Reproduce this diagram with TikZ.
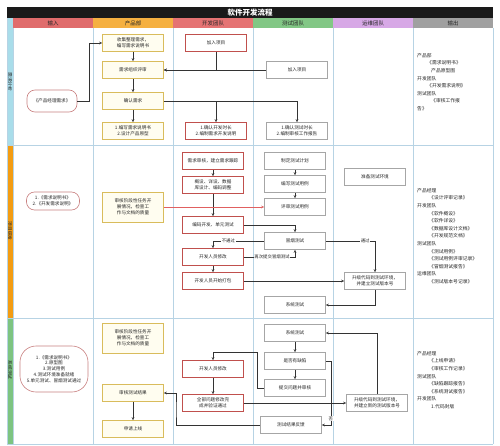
\documentclass[tikz,border=0pt]{standalone}
\usepackage{fontspec}
\setmainfont{Noto Sans CJK SC}
\XeTeXlinebreaklocale "zh"
\XeTeXlinebreakskip=0pt
\usetikzlibrary{arrows.meta}
\definecolor{titlec}{HTML}{1A1A1A}
\definecolor{hInput}{HTML}{E06C6C}
\definecolor{hProd}{HTML}{F5B041}
\definecolor{hDev}{HTML}{E57373}
\definecolor{hTest}{HTML}{82C785}
\definecolor{hOps}{HTML}{D7A8E6}
\definecolor{hOut}{HTML}{A0A0A0}
\definecolor{ph1}{HTML}{A9DDEA}
\definecolor{ph2}{HTML}{F39C12}
\definecolor{ph3}{HTML}{7DC481}
\definecolor{gridc}{HTML}{B7D3E4}
\definecolor{prodline}{HTML}{D9BC5C}
\definecolor{prodfill}{HTML}{FFFDF0}
\definecolor{devline}{HTML}{C0504D}
\definecolor{inpline}{HTML}{C98080}
\definecolor{testline}{HTML}{A6A6A6}
\definecolor{linec}{HTML}{333333}
\definecolor{redline}{HTML}{E06060}
\begin{document}
\begin{tikzpicture}[x=1pt,y=-1pt,
  every node/.style={font=\fontsize{4.6}{5.8}\selectfont, inner sep=1pt, text=black!85},
  box/.style={draw, minimum width=61pt, minimum height=17pt, text width=54pt, align=center, line width=0.6pt},
  prodbox/.style={box, draw=prodline, fill=prodfill},
  devbox/.style={box, draw=devline, fill=white},
  testbox/.style={box, draw=testline, fill=white},
  inpbox/.style={draw=inpline, rounded corners=8pt, align=center, line width=0.6pt, fill=white},
  arr/.style={draw=linec, line width=0.6pt, -{Stealth[length=3pt,width=2.6pt]}},
  redarr/.style={draw=redline, line width=0.6pt, -{Stealth[length=3pt,width=2.6pt]}},
  gridln/.style={draw=gridc, line width=0.7pt},
  hdr/.style={font=\fontsize{5.5}{6.5}\selectfont},
  lbl/.style={fill=white, inner sep=0.6pt, font=\fontsize{4.4}{5}\selectfont},
  outtxt/.style={anchor=north west, align=left, font=\fontsize{4.8}{7.6}\selectfont},
  phlbl/.style={rotate=-90, font=\fontsize{4.8}{5.6}\selectfont},
]
\useasboundingbox (0,0) rectangle (500,446);
\fill[white] (0,0) rectangle (500,446);
% title
\fill[titlec] (7,7) rectangle (493,18);
\node[text=white, font=\fontsize{7.5}{8}\selectfont\bfseries] (title) at (250,12.5) {软件开发流程};
% headers
\fill[hInput] (13,18) rectangle (93,28);
\fill[hProd] (93,18) rectangle (173,28);
\fill[hDev] (173,18) rectangle (253,28);
\fill[hTest] (253,18) rectangle (333,28);
\fill[hOps] (333,18) rectangle (413,28);
\fill[hOut] (413,18) rectangle (493,28);
\node[hdr] (h1) at (53,23) {输入};
\node[hdr] (h2) at (133,23) {产品部};
\node[hdr] (h3) at (213,23) {开发团队};
\node[hdr] (h4) at (293,23) {测试团队};
\node[hdr] (h5) at (373,23) {运维团队};
\node[hdr] (h6) at (453,23) {输出};
% phase strips
\fill[ph1] (7,18) rectangle (13,145);
\fill[ph2] (7,145) rectangle (13,318);
\fill[ph3] (7,318) rectangle (13,444);
\node[phlbl] (ph1l) at (10,82) {需求分析};
\node[phlbl] (ph2l) at (10,231) {项目研发};
\node[phlbl] (ph3l) at (10,370) {系统测试};
% grid
\foreach \x in {13,93,173,253,333,413,493} \draw[gridln] (\x,28) -- (\x,444);
\foreach \y in {145,318,444} \draw[gridln] (7,\y) -- (493,\y);
\draw[gridln] (7,18) -- (7,444);

% ---------- phase 1 ----------
\node[inpbox, minimum width=50pt, minimum height=22pt] (pi1) at (52,101) {《产品经理需求》};
\node[prodbox] (p1) at (133,43) {收集整理需求，编写需求说明书};
\node[prodbox] (p2) at (133,70) {需求组织评审};
\node[prodbox] (p3) at (133,101) {确认需求};
\node[prodbox] (p4) at (133,131) {1.编写需求说明书\\2.设计产品原型};
\node[devbox] (d1) at (216,43) {加入项目};
\node[devbox] (d2) at (216,131) {1.确认开发时长\\2.编制需求开发说明};
\node[testbox] (t1) at (297,70) {加入项目};
\node[testbox] (t2) at (297,131) {1.确认测试时长\\2.编制审核工作报告};
\node[outtxt] (out1) at (416,52) {产品部\\
\hspace*{10pt}《需求说明书》\\
\hspace*{14pt}产品原型图\\
开发团队\\
\hspace*{10pt}《开发需求说明》\\
测试团队\\
\hspace*{14pt}《审核工作报\\
告》};

\draw[arr] (pi1.east) -- ++(12,0) |- (p1.west);
\draw[arr] (p1) -- (p2);
\draw[arr] (d1.south) |- (p2.east);
\draw[arr] (t1.west) -- (p2.east);
\draw[arr] (p2) -- (p3);
\draw[arr] (p3.east) -| (t2.north);
\draw[arr] (p3.east) -| (d2.north);
\draw[arr] (p3) -- (p4);

% ---------- phase 2 ----------
\node[inpbox, minimum width=53pt, minimum height=18pt] (pi2) at (53,201) {1.《需求说明书》\\2.《开发需求说明》};
\node[prodbox, minimum height=30pt] (q1) at (133,207) {审核阶段性任务开展情况，检查工作与文档的质量};
\node[devbox] (e1) at (213,161) {需求审核，建立需求跟踪};
\node[devbox] (e2) at (213,185) {概设、详设、数据库设计、编码调整};
\node[devbox] (e3) at (213,225) {编码开发、单元测试};
\node[devbox] (e4) at (213,257) {开发人员修改};
\node[devbox] (e5) at (213,281) {开发人员开始打包};
\node[testbox] (s1) at (295,161) {制定测试计划};
\node[testbox] (s2) at (295,184) {编写测试用例};
\node[testbox] (s3) at (295,207) {评审测试用例};
\node[testbox] (s4) at (295,241) {冒烟测试};
\node[testbox] (s5) at (295,305) {系统测试};
\node[testbox] (o1) at (375,177) {准备测试环境};
\node[testbox] (o2) at (375,281) {升级代码到测试环境，并建立测试版本号};
\node[outtxt] (out2) at (416,187) {产品经理\\
\hspace*{12pt}《设计评审记录》\\
开发团队\\
\hspace*{12pt}《软件概设》\\
\hspace*{12pt}《软件详设》\\
\hspace*{12pt}《数据库设计文档》\\
\hspace*{12pt}《开发规范文档》\\
测试团队\\
\hspace*{12pt}《测试用例》\\
\hspace*{12pt}《测试用例评审记录》\\
\hspace*{12pt}《冒烟测试报告》\\
运维团队\\
\hspace*{12pt}《测试版本号记录》};

\draw[arr] (e1) -- (e2);
\draw[arr] (e2) -- (e3);
\draw[redarr] (q1.east) -- (s3.west);
\draw[arr] (s1) -- (s2);
\draw[arr] (s2) -- (s3);
\draw[arr] (e3.east) -| (s4.north);
\draw[arr] (s4.west) -| node[lbl, pos=0.35] {不通过} (e4.north);
\draw[arr] (e4.east) -| (s4.south);
\node[lbl] (again) at (272,257) {再次提交冒烟测试};
\draw[arr] (e4) -- (e5);
\draw[arr] (e5.east) -- (o2.west);
\draw[arr] (s4.east) -| node[lbl, pos=0.4] {通过} (o2.north);
\draw[arr] (o2.south) |- (s5.east);

% ---------- phase 3 ----------
\node[inpbox, rounded corners=16pt, minimum width=68pt, minimum height=46pt] (pi3) at (54,369) {1.《需求说明书》\\2.原型图\\3.测试用例\\4.测试环境准备就绪\\5.单元测试、冒烟测试通过};
\node[prodbox, minimum height=30pt] (r1) at (133,338) {审核阶段性任务开展情况，检查工作与文档的质量};
\node[prodbox] (r2) at (133,393) {审核测试结果};
\node[prodbox] (r3) at (133,429) {申请上线};
\node[devbox] (f1) at (213,369) {开发人员修改};
\node[devbox] (f2) at (213,403) {全部问题修改完成并验证通过};
\node[testbox] (u1) at (295,333) {系统测试};
\node[testbox] (u2) at (295,361) {是否有缺陷};
\node[testbox] (u3) at (295,388) {提交问题并审核};
\node[testbox] (u4) at (291,425) {测试结果反馈};
\node[testbox] (o3) at (377,403) {升级代码到测试环境，并建立新的测试版本号};
\node[outtxt] (out3) at (416,350) {产品经理\\
\hspace*{12pt}《上线申请》\\
\hspace*{12pt}《审核工作记录》\\
测试团队\\
\hspace*{12pt}《缺陷跟踪报告》\\
\hspace*{12pt}《系统测试报告》\\
开发团队\\
\hspace*{14pt}1.代码封版};

\coordinate (k1) at (257,352);
\coordinate (k2) at (176,410);
\draw[arr] (o3.north) |- (u1.east);
\draw[arr] (u1) -- (u2);
\draw[arr] (u2) -- (u3);
\draw[arr] (u3.west) -| (k1) -| (f1.north);
\draw[arr] (f1) -- (f2);
\draw[arr] (f2.east) -- (o3.west);
\draw[arr] (u2.east) -- ++(5,0) |- node[lbl, pos=0.45] {否} (u4.east);
\draw[arr] (u4.west) -| (k2) |- (r2.east);
\draw[arr] (r2) -- (r3);
\end{tikzpicture}
\end{document}
